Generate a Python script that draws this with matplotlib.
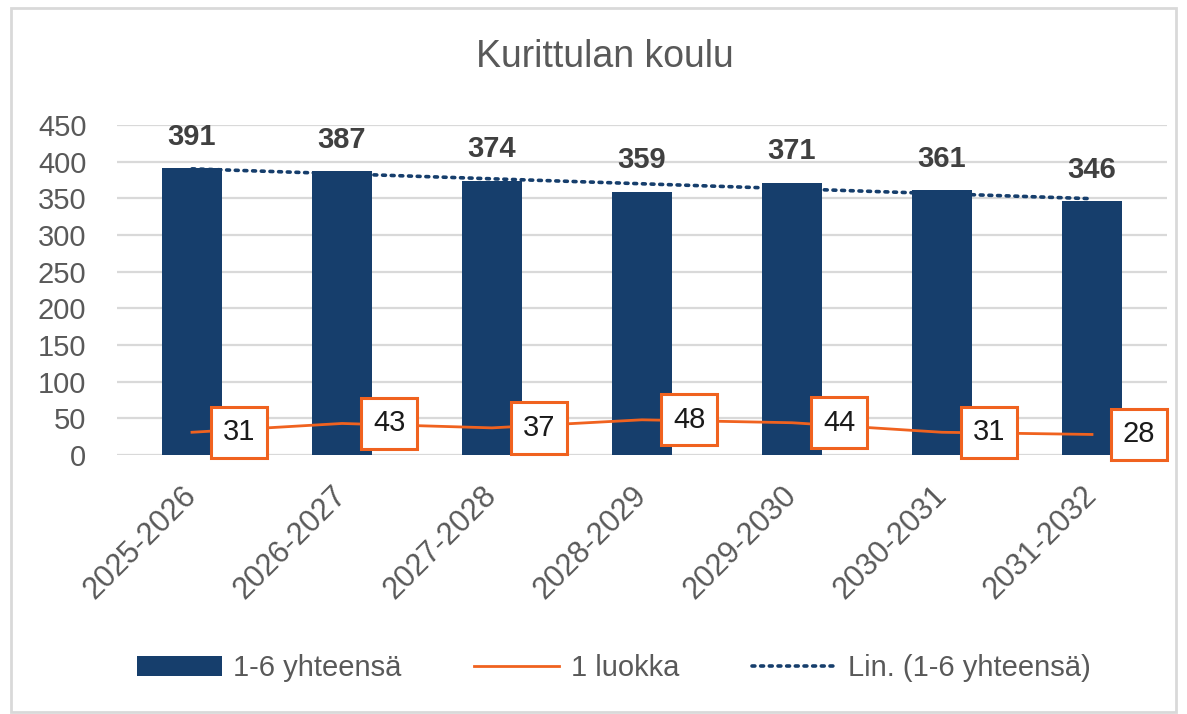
import numpy as np
import matplotlib.pyplot as plt
from matplotlib.patches import Rectangle

plt.rcParams['font.family'] = ['Liberation Sans', 'DejaVu Sans']

# ---- data ----
years = ['2025-2026', '2026-2027', '2027-2028', '2028-2029',
         '2029-2030', '2030-2031', '2031-2032']
totals = [391, 387, 374, 359, 371, 361, 346]   # 1-6 yhteensä
grade1 = [31, 43, 37, 48, 44, 31, 28]          # 1 luokka

NAVY = '#163E6C'
ORANGE = '#F0621F'
GRAY = '#595959'

W, H = 1187, 714
fig = plt.figure(figsize=(W / 100, H / 100), dpi=100)
ax = fig.add_axes([117 / W, 1 - 455 / H, 1050 / W, 330 / H])

x = np.arange(len(years))

# bars
bars = ax.bar(x, totals, width=0.4, color=NAVY, zorder=2)
for xi, v in zip(x, totals):
    ax.annotate(str(v), (xi, v), xytext=(0, 17), textcoords='offset points',
                ha='center', va='baseline', fontsize=21, fontweight='bold',
                color='#404040')

# linear trend of totals
coef = np.polyfit(x, totals, 1)
trend, = ax.plot(x, np.polyval(coef, x), color=NAVY, lw=2.6,
                 linestyle=(0, (0.8, 1.6)), dash_capstyle='round', zorder=3)

# 1 luokka line + boxed labels
line, = ax.plot(x, grade1, color=ORANGE, lw=2, zorder=3)
for xi, v in zip(x, grade1):
    ax.annotate(str(v), (xi, v), xytext=(34, 0), textcoords='offset points',
                ha='center', va='center', fontsize=21, color='#1a1a1a', zorder=4,
                bbox=dict(boxstyle='square,pad=0.4', fc='white', ec=ORANGE, lw=2.2))

ax.set_xlim(-0.5, len(years) - 0.5)
ax.set_ylim(0, 450)
ax.set_yticks(range(0, 451, 50))
ax.set_xticks(x)
ax.set_xticklabels(years, rotation=45, ha='right', va='center',
                   rotation_mode='anchor', fontsize=22, color=GRAY)
ax.tick_params(axis='y', labelsize=21, labelcolor=GRAY, length=0, pad=22)
ax.tick_params(axis='x', length=0, pad=26)
ax.grid(axis='y', color='#D9D9D9', lw=1.6, zorder=0)
ax.set_axisbelow(True)
for s in ax.spines.values():
    s.set_visible(False)

fig.text(605 / W, 1 - 57 / H, 'Kurittulan koulu', ha='center', va='center',
         fontsize=27, color=GRAY)

fig.legend([bars, line, trend], ['1-6 yhteensä', '1 luokka', 'Lin. (1-6 yhteensä)'],
           loc='center', bbox_to_anchor=(614 / W, 1 - 668 / H), ncol=3,
           frameon=False, fontsize=21, labelcolor=GRAY, handlelength=2.9,
           handleheight=0.7, handletextpad=0.4, columnspacing=2.5)

# outer chart frame
fig.patches.append(Rectangle((11 / W, 2 / H), 1165 / W, 704 / H,
                             transform=fig.transFigure, fill=False,
                             ec='#D9D9D9', lw=2))

fig.savefig('out.png', dpi=100)
